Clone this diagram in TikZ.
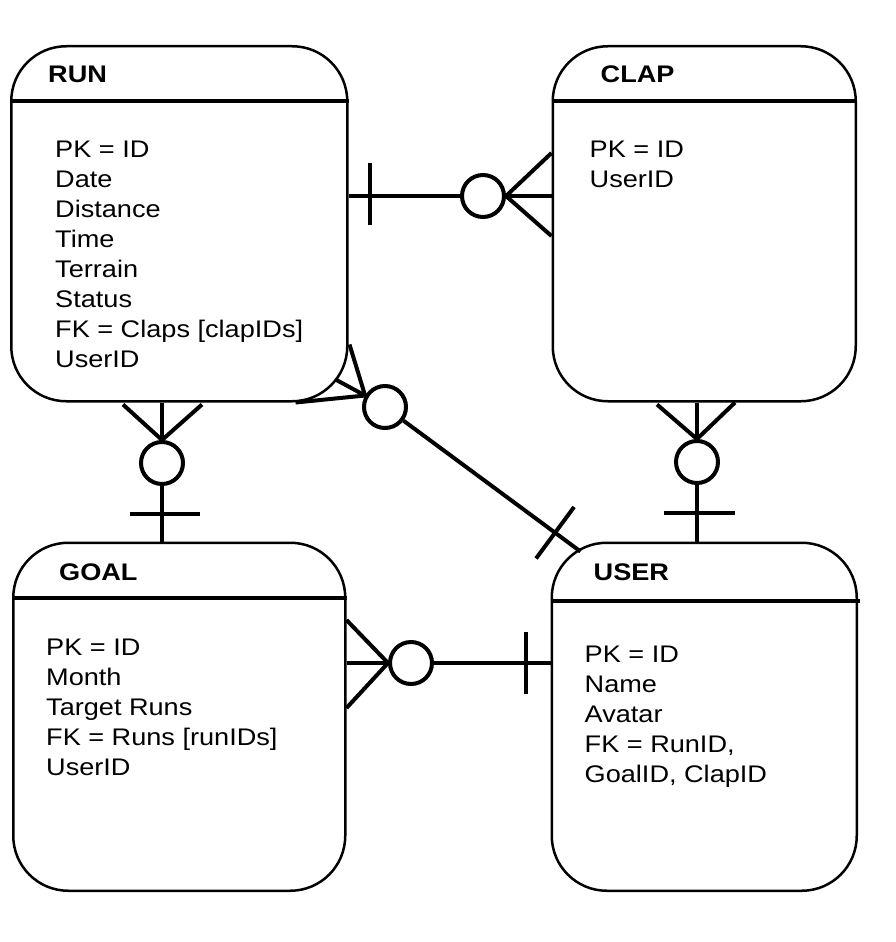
\documentclass[tikz,border=0pt]{standalone}
\usepackage{fontspec}
\setmainfont{Liberation Sans}[FakeStretch=1.13]
\usetikzlibrary{positioning,calc}

\begin{document}
\begin{tikzpicture}[x=1pt,y=-1pt,
    entity/.style={draw, line width=2.5pt, rounded corners=55pt, inner sep=0pt},
    etitle/.style={anchor=base west, inner sep=0pt, font=\fontsize{24}{30}\selectfont\bfseries},
    attrs/.style={anchor=north west, inner sep=0pt, align=left, font=\fontsize{24}{30}\selectfont},
    hline/.style={line width=4pt},
    rel/.style={line width=4pt},
    zero/.style={circle, draw, line width=4pt, minimum size=42pt, inner sep=0pt}]
  \useasboundingbox (0,0) rectangle (896,942);

  % entities
  \node[entity, minimum width=336pt, minimum height=355pt, anchor=north west] (run) at (10,45) {};
  \node[entity, minimum width=303pt, minimum height=355pt, right=203pt of run] (clap) {};
  \node[entity, minimum width=332pt, minimum height=348pt, below=139pt of run] (goal) {};
  \node[entity, minimum width=305pt, minimum height=348pt, below=139pt of clap] (user) {};

  \node[etitle] (runT) at ($(run.north west)+(38,37)$) {RUN};
  \node[etitle] (clapT) at ($(clap.north west)+(49,37)$) {CLAP};
  \node[etitle] (goalT) at ($(goal.north west)+(47,39)$) {GOAL};
  \node[etitle] (userT) at ($(user.north west)+(43,39)$) {USER};

  \draw[hline] ($(run.north west)+(0,56)$) -- ($(run.north east)+(0,56)$);
  \draw[hline] ($(clap.north west)+(0,56)$) -- ($(clap.north east)+(0,56)$);
  \draw[hline] ($(goal.north west)+(0,56)$) -- ($(goal.north east)+(0,56)$);
  \draw[hline] ($(user.north west)+(0,59)$) -- ($(user.north east)+(2,59)$);

  \node[attrs] (runA) at ($(run.north west)+(45,96)$)
    {PK = ID\\Date\\Distance\\Time\\Terrain\\Status\\FK = Claps [clapIDs]\\UserID};
  \node[attrs] (clapA) at ($(clap.north west)+(38,96)$) {PK = ID\\UserID};
  \node[attrs] (goalA) at ($(goal.north west)+(34,97)$)
    {PK = ID\\Month\\Target Runs\\FK = Runs [runIDs]\\UserID};
  \node[attrs] (userA) at ($(user.north west)+(34,104)$)
    {PK = ID\\Name\\Avatar\\FK = RunID,\\GoalID, ClapID};

  % run - clap
  \node[zero] (o1) at (483,196) {};
  \draw[rel] (run.east |- o1) -- (o1);
  \draw[rel] ($(run.east |- o1)+(21,-33)$) -- +(0,62);
  \draw[rel] (o1) -- (clap.west |- o1);
  \draw[rel] ($(clap.west |- o1)+(0,-43)$) -- (o1.east) -- ($(clap.west |- o1)+(0,40)$);

  % run - goal
  \node[zero] (o2) at (162,463) {};
  \draw[rel] (o2) -- (o2 |- goal.north);
  \draw[rel] ($(o2 |- goal.north)+(-32,-28)$) -- +(70,0);
  \draw[rel] (o2 |- run.south) -- (o2.north);
  \draw[rel] ($(o2 |- run.south)+(-39,2)$) -- (o2.north) -- ($(o2 |- run.south)+(40,2)$);

  % clap - user
  \node[zero] (o3) at (697,462) {};
  \draw[rel] (o3) -- (o3 |- user.north);
  \draw[rel] ($(o3 |- user.north)+(-33,-29)$) -- +(71,0);
  \draw[rel] (o3 |- clap.south) -- (o3.north);
  \draw[rel] ($(o3 |- clap.south)+(-40,2)$) -- (o3.north) -- ($(o3 |- clap.south)+(38,0)$);

  % goal - user
  \node[zero] (o4) at (411,663) {};
  \draw[rel] (o4) -- (user.west |- o4);
  \draw[rel] ($(user.west |- o4)+(-25,-31)$) -- +(0,62);
  \draw[rel] (goal.east |- o4) -- (o4.west);
  \draw[rel] ($(goal.east |- o4)+(0,-43)$) -- (o4.west) -- ($(goal.east |- o4)+(0,45)$);

  % run - user
  \node[zero] (o5) at (385,407) {};
  \coordinate (uc) at ($(user.north west)+(30,10)$);
  \draw[rel] (o5) -- (uc);
  \coordinate (bc) at ($(o5)!0.87!(uc)$);
  \draw[rel] ($(bc)!32pt!90:(uc)$) -- ($(bc)!32pt!-90:(uc)$);
  \draw[rel] ($(run.south east)+(-53,0)$) -- (o5.150) -- ($(run.south east)+(1,-58)$);
  \draw[rel] ($(run.south east)+(-13,-23)$) -- (o5.150);
\end{tikzpicture}
\end{document}
